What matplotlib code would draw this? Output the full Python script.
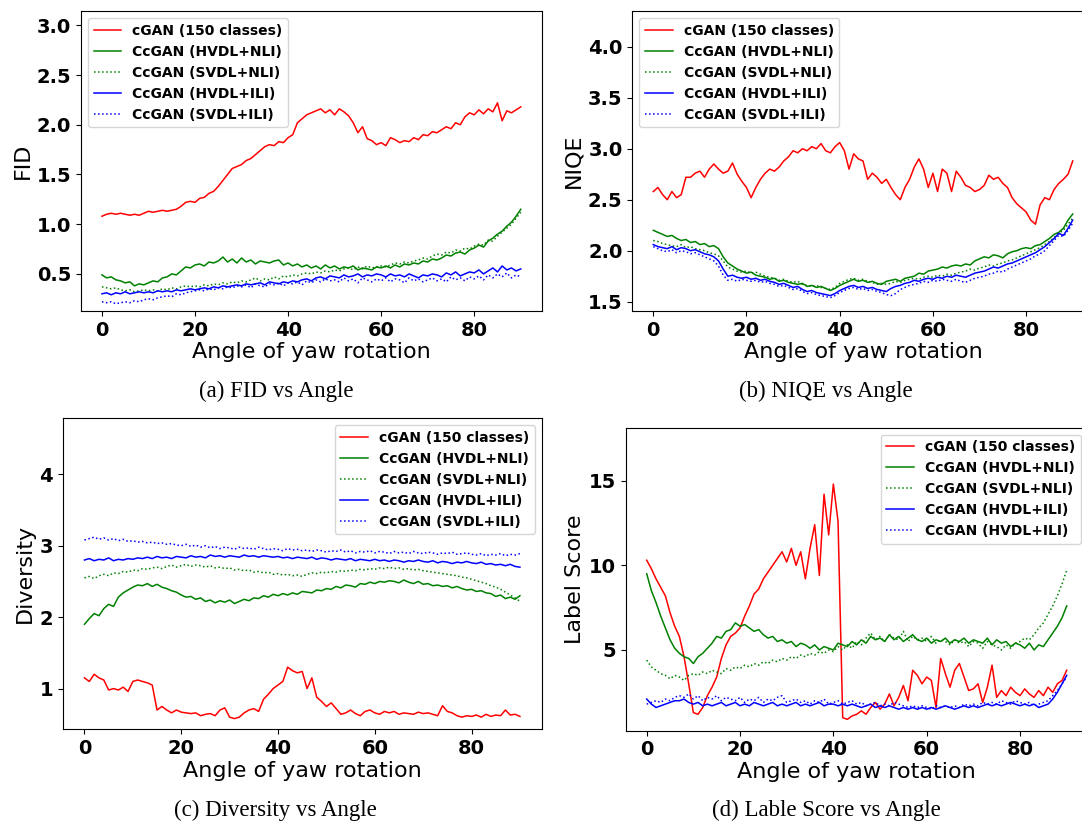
import matplotlib
matplotlib.use('Agg')
import matplotlib.pyplot as plt
import numpy as np

# angles 0..90 deg, one value per degree
angles = list(range(91))
labels = ['cGAN (150 classes)', 'CcGAN (HVDL+NLI)', 'CcGAN (SVDL+NLI)',
          'CcGAN (HVDL+ILI)', 'CcGAN (SVDL+ILI)']
labels_d = ['cGAN (150 classes)', 'CcGAN (HVDL+NLI)', 'CcGAN (SVDL+NLI)',
            'CcGAN (HVDL+ILI)', 'CcGAN (HVDL+ILI)']

# (a) FID
fid_cgan = [1.08, 1.10, 1.11, 1.10, 1.11, 1.10, 1.09, 1.10, 1.09, 1.11,
            1.13, 1.12, 1.13, 1.14, 1.13, 1.14, 1.15, 1.18, 1.22, 1.23,
            1.22, 1.26, 1.27, 1.31, 1.33, 1.38, 1.44, 1.50, 1.56, 1.58,
            1.60, 1.64, 1.66, 1.70, 1.74, 1.78, 1.80, 1.79, 1.83, 1.82,
            1.87, 1.90, 2.02, 2.06, 2.10, 2.12, 2.14, 2.16, 2.12, 2.15,
            2.10, 2.16, 2.13, 2.09, 2.02, 1.92, 1.98, 1.86, 1.84, 1.80,
            1.82, 1.79, 1.87, 1.85, 1.82, 1.84, 1.83, 1.87, 1.85, 1.90,
            1.89, 1.93, 1.92, 1.95, 1.98, 1.96, 2.02, 2.00, 2.08, 2.12,
            2.10, 2.15, 2.11, 2.16, 2.13, 2.22, 2.04, 2.14, 2.12, 2.15, 2.18]
fid_hvdl_nli = [0.49, 0.46, 0.47, 0.44, 0.43, 0.41, 0.42, 0.38, 0.40, 0.39,
                0.41, 0.43, 0.42, 0.46, 0.47, 0.50, 0.49, 0.53, 0.57, 0.56,
                0.59, 0.60, 0.58, 0.62, 0.61, 0.63, 0.67, 0.62, 0.65, 0.61,
                0.66, 0.62, 0.64, 0.60, 0.63, 0.62, 0.61, 0.63, 0.64, 0.59,
                0.61, 0.58, 0.60, 0.57, 0.59, 0.56, 0.58, 0.55, 0.59, 0.56,
                0.58, 0.55, 0.57, 0.56, 0.58, 0.54, 0.56, 0.55, 0.54, 0.57,
                0.56, 0.58, 0.56, 0.59, 0.57, 0.60, 0.59, 0.61, 0.60, 0.63,
                0.62, 0.65, 0.64, 0.66, 0.69, 0.68, 0.71, 0.72, 0.70, 0.74,
                0.76, 0.79, 0.77, 0.83, 0.86, 0.90, 0.93, 0.98, 1.02, 1.08, 1.15]
fid_svdl_nli = [0.37, 0.36, 0.35, 0.36, 0.34, 0.33, 0.34, 0.32, 0.33, 0.34,
                0.33, 0.34, 0.33, 0.35, 0.34, 0.36, 0.35, 0.37, 0.38, 0.37,
                0.38, 0.37, 0.39, 0.38, 0.40, 0.39, 0.41, 0.40, 0.42, 0.41,
                0.43, 0.42, 0.44, 0.46, 0.43, 0.45, 0.44, 0.47, 0.45, 0.48,
                0.47, 0.49, 0.48, 0.50, 0.51, 0.50, 0.52, 0.51, 0.53, 0.52,
                0.54, 0.53, 0.55, 0.56, 0.54, 0.57, 0.55, 0.58, 0.56, 0.57,
                0.58, 0.57, 0.59, 0.61, 0.60, 0.62, 0.61, 0.63, 0.64, 0.66,
                0.65, 0.68, 0.70, 0.69, 0.72, 0.71, 0.74, 0.73, 0.76, 0.75,
                0.78, 0.80, 0.79, 0.84, 0.83, 0.88, 0.92, 0.96, 1.00, 1.06, 1.12]
fid_hvdl_ili = [0.30, 0.31, 0.29, 0.31, 0.30, 0.32, 0.30, 0.31, 0.32, 0.31,
                0.32, 0.31, 0.33, 0.32, 0.33, 0.32, 0.34, 0.33, 0.34, 0.35,
                0.34, 0.35, 0.36, 0.35, 0.37, 0.36, 0.38, 0.37, 0.38, 0.39,
                0.38, 0.40, 0.39, 0.40, 0.41, 0.39, 0.42, 0.41, 0.40, 0.42,
                0.41, 0.43, 0.42, 0.44, 0.45, 0.43, 0.46, 0.47, 0.45, 0.48,
                0.47, 0.46, 0.49, 0.47, 0.48, 0.50, 0.47, 0.49, 0.48, 0.50,
                0.49, 0.47, 0.50, 0.48, 0.49, 0.47, 0.50, 0.48, 0.46, 0.49,
                0.48, 0.50, 0.49, 0.47, 0.51, 0.49, 0.52, 0.48, 0.50, 0.52,
                0.51, 0.54, 0.50, 0.53, 0.56, 0.52, 0.58, 0.54, 0.56, 0.53, 0.55]
fid_svdl_ili = [0.22, 0.21, 0.22, 0.20, 0.21, 0.22, 0.21, 0.23, 0.22, 0.24,
                0.25, 0.24, 0.26, 0.27, 0.28, 0.27, 0.30, 0.29, 0.31, 0.32,
                0.33, 0.34, 0.33, 0.35, 0.34, 0.36, 0.35, 0.37, 0.36, 0.38,
                0.37, 0.39, 0.36, 0.40, 0.38, 0.37, 0.40, 0.39, 0.41, 0.38,
                0.41, 0.40, 0.42, 0.39, 0.43, 0.41, 0.44, 0.42, 0.45, 0.43,
                0.44, 0.42, 0.46, 0.43, 0.45, 0.41, 0.46, 0.44, 0.42, 0.45,
                0.43, 0.46, 0.42, 0.45, 0.44, 0.41, 0.46, 0.43, 0.45, 0.42,
                0.44, 0.46, 0.43, 0.45, 0.42, 0.47, 0.44, 0.46, 0.43, 0.47,
                0.45, 0.48, 0.44, 0.49, 0.46, 0.50, 0.47, 0.51, 0.46, 0.49, 0.47]

# (b) NIQE
niqe_cgan = [2.58, 2.62, 2.55, 2.50, 2.58, 2.52, 2.55, 2.72, 2.72, 2.76,
             2.78, 2.72, 2.80, 2.85, 2.80, 2.76, 2.78, 2.86, 2.75, 2.68,
             2.62, 2.52, 2.62, 2.70, 2.76, 2.80, 2.78, 2.82, 2.88, 2.92,
             2.98, 2.96, 3.00, 2.98, 3.02, 3.00, 3.05, 2.98, 2.96, 3.02,
             3.06, 2.98, 2.80, 2.95, 2.90, 2.88, 2.70, 2.76, 2.72, 2.66,
             2.70, 2.62, 2.55, 2.50, 2.62, 2.70, 2.82, 2.90, 2.80, 2.62,
             2.76, 2.58, 2.80, 2.76, 2.58, 2.78, 2.72, 2.64, 2.62, 2.58,
             2.60, 2.64, 2.74, 2.70, 2.72, 2.66, 2.62, 2.52, 2.46, 2.42,
             2.38, 2.30, 2.26, 2.45, 2.52, 2.50, 2.60, 2.66, 2.70, 2.75, 2.88]
niqe_hvdl_nli = [2.20, 2.18, 2.16, 2.14, 2.15, 2.12, 2.10, 2.11, 2.08, 2.09,
                 2.06, 2.07, 2.04, 2.05, 2.02, 1.94, 1.88, 1.85, 1.82, 1.80,
                 1.78, 1.79, 1.76, 1.75, 1.74, 1.72, 1.73, 1.70, 1.71, 1.69,
                 1.68, 1.67, 1.68, 1.65, 1.66, 1.64, 1.65, 1.63, 1.61, 1.63,
                 1.66, 1.68, 1.70, 1.72, 1.70, 1.71, 1.69, 1.70, 1.68, 1.67,
                 1.70, 1.71, 1.72, 1.70, 1.73, 1.74, 1.75, 1.78, 1.77, 1.80,
                 1.81, 1.82, 1.84, 1.83, 1.85, 1.86, 1.85, 1.87, 1.86, 1.90,
                 1.92, 1.94, 1.93, 1.96, 1.95, 1.93, 1.97, 1.99, 2.00, 2.02,
                 2.03, 2.02, 2.05, 2.06, 2.09, 2.12, 2.16, 2.18, 2.22, 2.30, 2.36]
niqe_svdl_nli = [2.10, 2.09, 2.07, 2.06, 2.05, 2.04, 2.06, 2.03, 2.04, 2.02,
                 2.01, 2.00, 1.98, 1.97, 1.95, 1.90, 1.84, 1.82, 1.80, 1.79,
                 1.80, 1.78, 1.79, 1.77, 1.75, 1.74, 1.73, 1.71, 1.72, 1.70,
                 1.69, 1.70, 1.67, 1.66, 1.65, 1.66, 1.64, 1.63, 1.62, 1.64,
                 1.68, 1.70, 1.72, 1.73, 1.71, 1.72, 1.70, 1.69, 1.67, 1.68,
                 1.67, 1.68, 1.70, 1.69, 1.71, 1.72, 1.73, 1.72, 1.74, 1.75,
                 1.74, 1.76, 1.75, 1.77, 1.76, 1.78, 1.79, 1.80, 1.82, 1.81,
                 1.83, 1.84, 1.86, 1.85, 1.87, 1.88, 1.90, 1.91, 1.93, 1.95,
                 1.97, 1.99, 2.01, 2.03, 2.06, 2.09, 2.13, 2.17, 2.20, 2.26, 2.32]
niqe_hvdl_ili = [2.06, 2.04, 2.03, 2.02, 2.04, 2.01, 2.03, 2.02, 2.00, 2.01,
                 1.99, 1.97, 1.96, 1.94, 1.90, 1.82, 1.75, 1.76, 1.74, 1.73,
                 1.74, 1.72, 1.73, 1.71, 1.72, 1.70, 1.69, 1.67, 1.68, 1.66,
                 1.64, 1.65, 1.62, 1.60, 1.61, 1.59, 1.58, 1.57, 1.56, 1.58,
                 1.61, 1.63, 1.65, 1.66, 1.64, 1.65, 1.63, 1.64, 1.62, 1.61,
                 1.60, 1.63, 1.65, 1.66, 1.68, 1.69, 1.71, 1.70, 1.72, 1.73,
                 1.72, 1.74, 1.73, 1.75, 1.74, 1.76, 1.75, 1.74, 1.76, 1.78,
                 1.79, 1.80, 1.82, 1.84, 1.83, 1.85, 1.87, 1.88, 1.90, 1.92,
                 1.94, 1.96, 1.98, 2.01, 2.04, 2.08, 2.12, 2.17, 2.15, 2.22, 2.30]
niqe_svdl_ili = [2.04, 2.02, 2.00, 1.99, 2.01, 1.98, 2.00, 1.99, 1.97, 1.98,
                 1.96, 1.94, 1.92, 1.90, 1.85, 1.76, 1.71, 1.72, 1.70, 1.72,
                 1.71, 1.70, 1.71, 1.69, 1.70, 1.68, 1.67, 1.65, 1.66, 1.64,
                 1.62, 1.63, 1.60, 1.58, 1.59, 1.57, 1.56, 1.55, 1.54, 1.56,
                 1.59, 1.61, 1.63, 1.64, 1.62, 1.63, 1.61, 1.62, 1.60, 1.59,
                 1.57, 1.56, 1.58, 1.62, 1.64, 1.66, 1.67, 1.68, 1.70, 1.69,
                 1.71, 1.70, 1.72, 1.71, 1.70, 1.72, 1.70, 1.69, 1.71, 1.73,
                 1.74, 1.75, 1.77, 1.78, 1.80, 1.79, 1.82, 1.84, 1.86, 1.88,
                 1.90, 1.92, 1.95, 1.97, 2.00, 2.05, 2.10, 2.15, 2.14, 2.20, 2.27]

# (c) Diversity
div_cgan = [1.15, 1.10, 1.20, 1.15, 1.12, 0.98, 1.00, 0.98, 1.02, 0.96,
            1.10, 1.12, 1.10, 1.08, 1.05, 0.70, 0.75, 0.70, 0.66, 0.70,
            0.67, 0.66, 0.65, 0.66, 0.62, 0.64, 0.65, 0.62, 0.70, 0.73,
            0.60, 0.58, 0.60, 0.66, 0.70, 0.72, 0.68, 0.85, 0.92, 1.00,
            1.05, 1.10, 1.30, 1.25, 1.22, 1.24, 1.00, 1.15, 0.88, 0.82,
            0.75, 0.80, 0.72, 0.64, 0.66, 0.70, 0.65, 0.62, 0.68, 0.70,
            0.66, 0.64, 0.68, 0.66, 0.68, 0.64, 0.66, 0.65, 0.64, 0.67,
            0.65, 0.66, 0.64, 0.62, 0.76, 0.68, 0.66, 0.62, 0.60, 0.62,
            0.61, 0.63, 0.60, 0.64, 0.61, 0.63, 0.62, 0.70, 0.63, 0.64, 0.61]
div_hvdl_nli = [1.90, 1.98, 2.05, 2.02, 2.12, 2.18, 2.15, 2.28, 2.34, 2.38,
                2.42, 2.45, 2.44, 2.47, 2.43, 2.46, 2.42, 2.40, 2.37, 2.35,
                2.31, 2.28, 2.29, 2.25, 2.27, 2.22, 2.24, 2.20, 2.23, 2.21,
                2.24, 2.19, 2.22, 2.25, 2.23, 2.27, 2.26, 2.30, 2.28, 2.32,
                2.30, 2.33, 2.31, 2.34, 2.32, 2.36, 2.35, 2.34, 2.38, 2.37,
                2.40, 2.39, 2.43, 2.41, 2.45, 2.44, 2.42, 2.47, 2.46, 2.49,
                2.47, 2.50, 2.49, 2.51, 2.50, 2.48, 2.52, 2.49, 2.47, 2.50,
                2.46, 2.47, 2.44, 2.45, 2.43, 2.44, 2.41, 2.43, 2.40, 2.38,
                2.39, 2.36, 2.37, 2.34, 2.33, 2.29, 2.31, 2.26, 2.28, 2.25, 2.30]
div_svdl_nli = [2.55, 2.57, 2.54, 2.58, 2.60, 2.58, 2.62, 2.61, 2.64, 2.63,
                2.66, 2.65, 2.68, 2.67, 2.69, 2.70, 2.68, 2.71, 2.73, 2.70,
                2.72, 2.74, 2.71, 2.73, 2.72, 2.70, 2.72, 2.69, 2.70, 2.68,
                2.69, 2.66, 2.67, 2.65, 2.66, 2.63, 2.64, 2.62, 2.63, 2.60,
                2.61, 2.59, 2.60, 2.58, 2.59, 2.57, 2.60, 2.62, 2.61, 2.63,
                2.62, 2.64, 2.63, 2.65, 2.64, 2.66, 2.65, 2.67, 2.66, 2.68,
                2.67, 2.69, 2.68, 2.70, 2.68, 2.69, 2.67, 2.68, 2.66, 2.67,
                2.65, 2.64, 2.63, 2.62, 2.61, 2.60, 2.59, 2.58, 2.56, 2.55,
                2.53, 2.51, 2.49, 2.47, 2.44, 2.42, 2.39, 2.35, 2.31, 2.27, 2.22]
div_hvdl_ili = [2.80, 2.82, 2.79, 2.81, 2.80, 2.83, 2.79, 2.81, 2.80, 2.82,
                2.81, 2.83, 2.82, 2.84, 2.82, 2.85, 2.83, 2.84, 2.82, 2.85,
                2.84, 2.83, 2.86, 2.84, 2.85, 2.83, 2.87, 2.85, 2.86, 2.84,
                2.86, 2.85, 2.84, 2.87, 2.85, 2.86, 2.84, 2.86, 2.85, 2.84,
                2.85, 2.83, 2.84, 2.82, 2.84, 2.83, 2.82, 2.84, 2.81, 2.83,
                2.82, 2.80, 2.82, 2.81, 2.80, 2.82, 2.79, 2.81, 2.80, 2.79,
                2.81, 2.79, 2.80, 2.78, 2.80, 2.79, 2.77, 2.79, 2.78, 2.80,
                2.78, 2.77, 2.79, 2.76, 2.78, 2.77, 2.75, 2.77, 2.76, 2.78,
                2.76, 2.75, 2.77, 2.74, 2.75, 2.73, 2.74, 2.72, 2.74, 2.71, 2.70]
div_svdl_ili = [3.08, 3.10, 3.12, 3.09, 3.11, 3.08, 3.10, 3.07, 3.09, 3.06,
                3.07, 3.05, 3.06, 3.04, 3.05, 3.03, 3.04, 3.02, 3.03, 3.01,
                3.00, 3.02, 2.99, 3.01, 2.98, 3.00, 2.97, 2.99, 2.96, 2.98,
                2.97, 2.95, 2.98, 2.96, 2.97, 2.95, 2.98, 2.96, 2.94, 2.96,
                2.95, 2.93, 2.96, 2.94, 2.95, 2.93, 2.94, 2.92, 2.94, 2.93,
                2.91, 2.93, 2.92, 2.94, 2.91, 2.93, 2.90, 2.92, 2.91, 2.93,
                2.90, 2.92, 2.91, 2.89, 2.92, 2.90, 2.91, 2.89, 2.92, 2.90,
                2.89, 2.91, 2.90, 2.88, 2.90, 2.89, 2.91, 2.88, 2.89, 2.90,
                2.88, 2.87, 2.89, 2.86, 2.88, 2.87, 2.89, 2.86, 2.88, 2.87, 2.89]

# (d) Label score
lab_cgan = [10.3, 9.8, 9.2, 8.7, 8.2, 7.2, 6.4, 5.8, 4.6, 3.0,
            1.3, 1.2, 1.6, 2.3, 2.8, 3.4, 4.5, 5.3, 5.8, 6.0,
            6.3, 7.0, 7.6, 8.3, 8.6, 9.2, 9.6, 10.0, 10.4, 10.8,
            10.2, 11.0, 10.0, 10.8, 9.2, 11.0, 12.4, 9.4, 14.2, 11.8,
            14.8, 12.6, 1.0, 0.9, 1.1, 1.2, 1.4, 1.2, 1.6, 1.9,
            1.5, 1.8, 2.4, 1.7, 2.2, 2.9, 2.0, 3.8, 3.5, 3.0,
            3.4, 3.2, 1.6, 4.5, 3.6, 2.8, 3.8, 4.2, 3.4, 2.6,
            2.7, 3.0, 1.9, 2.8, 4.1, 2.2, 2.6, 2.3, 2.8, 2.5,
            2.3, 2.7, 2.4, 2.2, 2.6, 2.3, 2.8, 2.5, 3.0, 3.2, 3.8]
lab_hvdl_nli = [9.5, 8.5, 7.8, 7.0, 6.3, 5.6, 5.1, 4.8, 4.6, 4.5,
                4.2, 4.6, 4.8, 5.1, 5.4, 5.8, 5.7, 6.1, 6.2, 6.6,
                6.4, 6.5, 6.3, 6.1, 6.2, 5.9, 5.7, 5.8, 5.5, 5.6,
                5.4, 5.5, 5.2, 5.4, 5.3, 5.1, 5.3, 5.0, 5.2, 5.1,
                5.0, 5.4, 5.3, 5.2, 5.5, 5.3, 5.6, 5.4, 5.8, 5.6,
                5.7, 5.5, 5.9, 5.6, 5.8, 5.5, 5.7, 5.9, 5.6, 5.5,
                5.7, 5.4, 5.6, 5.5, 5.7, 5.4, 5.6, 5.5, 5.7, 5.4,
                5.6, 5.5, 5.4, 5.7, 5.3, 5.6, 5.4, 5.5, 5.2, 5.4,
                5.3, 5.1, 5.4, 5.0, 5.3, 5.2, 5.6, 6.0, 6.4, 6.9, 7.6]
lab_svdl_nli = [4.4, 4.0, 3.8, 3.6, 3.5, 3.3, 3.5, 3.4, 3.2, 3.5,
                3.6, 3.5, 3.7, 3.6, 3.8, 3.7, 3.6, 3.9, 3.8, 4.0,
                3.9, 4.1, 4.0, 4.2, 4.1, 4.3, 4.2, 4.4, 4.3, 4.5,
                4.4, 4.6, 4.5, 4.7, 4.6, 4.8, 4.7, 4.9, 4.8, 5.0,
                4.9, 5.2, 5.0, 5.3, 5.1, 5.5, 5.3, 5.7, 6.0, 5.6,
                5.8, 5.5, 5.9, 5.7, 5.6, 6.1, 5.5, 5.8, 5.6, 5.7,
                5.5, 5.8, 5.4, 5.6, 5.5, 5.3, 5.6, 5.4, 5.5, 5.2,
                5.5, 5.4, 5.1, 5.5, 5.3, 5.2, 5.0, 5.3, 5.1, 5.4,
                5.5, 5.7, 5.6, 5.9, 6.3, 6.6, 7.1, 7.6, 8.2, 8.9, 9.7]
lab_hvdl_ili = [2.1, 1.8, 1.6, 1.7, 1.8, 1.9, 2.0, 2.0, 2.1, 1.9,
                1.8, 1.9, 1.7, 1.8, 1.7, 1.8, 1.9, 1.7, 1.8, 1.9,
                1.7, 1.8, 1.7, 1.9, 1.8, 1.7, 1.8, 1.9, 1.7, 1.8,
                1.7, 1.8, 1.9, 1.7, 1.8, 1.7, 1.8, 1.9, 1.7, 1.8,
                1.8, 1.7, 1.8, 1.7, 1.8, 1.7, 1.6, 1.7, 1.8, 1.6,
                1.7, 1.6, 1.7, 1.6, 1.5, 1.6, 1.5, 1.6, 1.5, 1.6,
                1.5, 1.6, 1.5, 1.6, 1.7, 1.6, 1.5, 1.6, 1.7, 1.6,
                1.7, 1.6, 1.7, 1.8, 1.7, 1.8, 1.7, 1.8, 1.9, 1.8,
                1.7, 1.8, 1.7, 1.8, 1.6, 1.7, 1.8, 2.1, 2.5, 3.0, 3.5]
lab_svdl_ili = [1.8, 1.9, 2.0, 1.9, 2.1, 2.0, 2.2, 2.3, 2.2, 2.4,
                2.1, 2.3, 2.0, 2.2, 2.1, 2.3, 2.0, 2.2, 2.1, 2.0,
                2.2, 1.9, 2.1, 2.0, 2.2, 1.9, 2.1, 2.0, 2.2, 2.3,
                1.9, 2.0, 2.1, 1.9, 2.0, 1.8, 2.0, 1.9, 2.1, 1.8,
                1.9, 2.0, 1.8, 1.9, 2.0, 1.8, 1.9, 1.7, 1.8, 1.9,
                1.7, 1.8, 1.7, 1.9, 1.8, 1.7, 1.6, 1.7, 1.6, 1.7,
                1.6, 1.5, 1.7, 1.6, 1.7, 1.6, 1.7, 1.6, 1.8, 1.7,
                1.8, 1.7, 1.9, 1.8, 1.9, 1.8, 2.0, 1.9, 1.8, 2.0,
                1.9, 1.8, 1.9, 1.7, 1.8, 1.9, 2.0, 2.3, 2.6, 3.0, 3.4]

colors = ['red', 'green', 'green', 'blue', 'blue']
styles = ['-', '-', ':', '-', ':']

W, H = 1082, 823


def box(left, top, right, bottom):
    # pixel box -> figure fraction
    return [left / W, 1 - bottom / H, (right - left) / W, (bottom - top) / H]


fig = plt.figure(figsize=(W / 100, H / 100), dpi=100)

panels = [
    (box(81, 11.3, 541.7, 311), [fid_cgan, fid_hvdl_nli, fid_svdl_nli, fid_hvdl_ili, fid_svdl_ili],
     'FID', (0.127, 3.141), [0.5, 1.0, 1.5, 2.0, 2.5, 3.0], '%.1f', 'upper left', labels),
    (box(632.3, 11.3, 1093.7, 311), [niqe_cgan, niqe_hvdl_nli, niqe_svdl_nli, niqe_hvdl_ili, niqe_svdl_ili],
     'NIQE', (1.409, 4.347), [1.5, 2.0, 2.5, 3.0, 3.5, 4.0], '%.1f', 'upper left', labels),
    (box(62.7, 418.3, 541.7, 729.3), [div_cgan, div_hvdl_nli, div_svdl_nli, div_hvdl_ili, div_svdl_ili],
     'Diversity', (0.43, 4.784), [1, 2, 3, 4], '%d', 'upper right', labels),
    (box(625.7, 427.7, 1087.7, 730.7), [lab_cgan, lab_hvdl_nli, lab_svdl_nli, lab_hvdl_ili, lab_svdl_ili],
     'Label Score', (0.23, 18.13), [5, 10, 15], '%d', 'upper right', labels_d),
]

for rect, series, ylab, ylim, yt, fmt, loc, labs in panels:
    ax = fig.add_axes(rect)
    for ys, c, ls, lab in zip(series, colors, styles, labs):
        ax.plot(angles, ys, color=c, linestyle=ls, linewidth=1.1, label=lab)
    ax.set_xlim(-4.5, 94.5)
    ax.set_ylim(*ylim)
    ax.set_xticks([0, 20, 40, 60, 80])
    ax.set_yticks(yt)
    ax.set_yticklabels([fmt % v for v in yt])
    for t in ax.get_xticklabels() + ax.get_yticklabels():
        t.set_fontweight('bold')
        t.set_fontsize(14)
    ax.set_xlabel('Angle of yaw rotation', fontsize=16, labelpad=2)
    ax.set_ylabel(ylab, fontsize=16, labelpad=3)
    ax.legend(loc=loc, prop={'weight': 'bold', 'size': 10}, labelspacing=0.5)

captions = [('(a) FID vs Angle', 276, 391), ('(b) NIQE vs Angle', 826, 391),
            ('(c) Diversity vs Angle', 275, 810), ('(d) Lable Score vs Angle', 826, 810)]
for txt, cx, cy in captions:
    fig.text(cx / W, 1 - cy / H, txt, ha='center', va='center',
             fontsize=16.5, family='Liberation Serif')

fig.savefig('out.png', dpi=100)
